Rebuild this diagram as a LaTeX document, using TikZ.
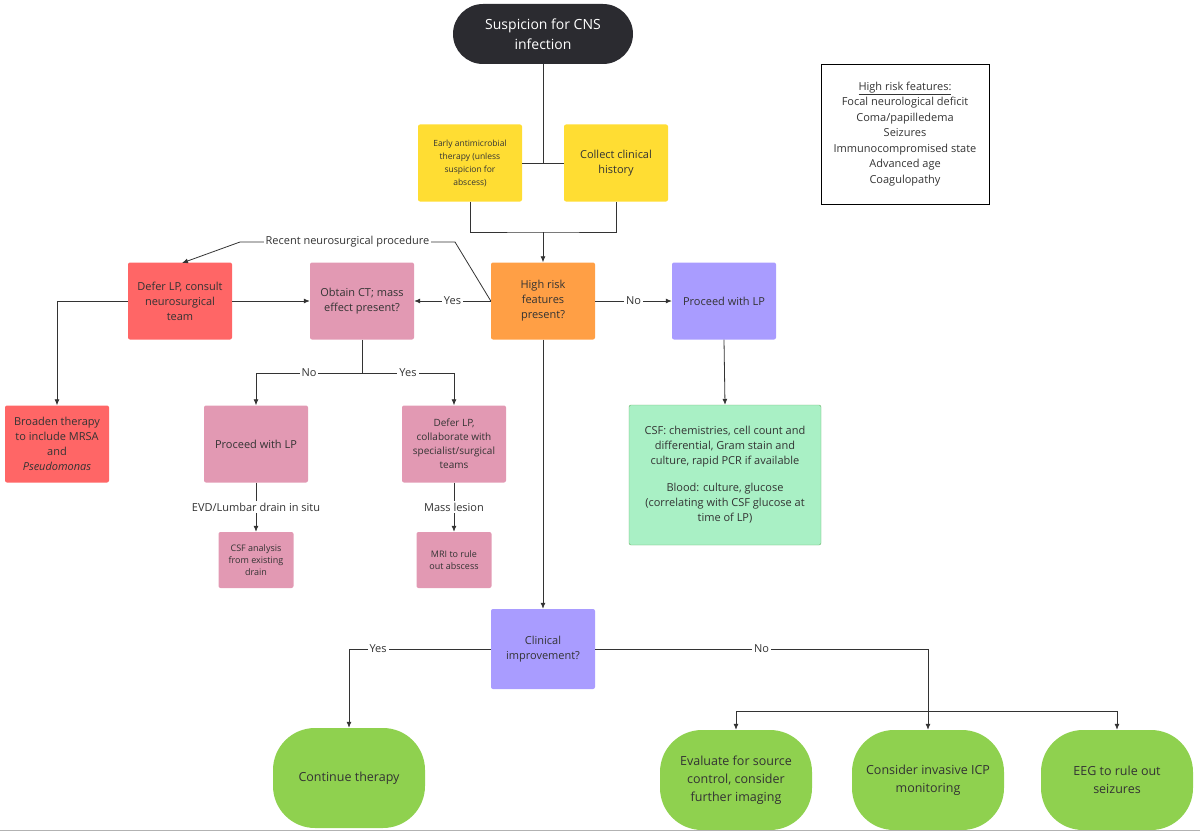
\documentclass[tikz,border=0pt]{standalone}
\usepackage{fontspec}
\setmainfont{Open Sans}
\usetikzlibrary{arrows.meta}
\definecolor{cblack}{HTML}{2B2B30}
\definecolor{cyel}{HTML}{FFDD33}
\definecolor{cor}{HTML}{FF9F45}
\definecolor{cpink}{HTML}{E299B3}
\definecolor{cred}{HTML}{FF6666}
\definecolor{cpur}{HTML}{A99CFF}
\definecolor{clg}{HTML}{A9F0C5}
\definecolor{cgr}{HTML}{8FD14F}
\definecolor{ctxt}{HTML}{333333}
\begin{document}
\begin{tikzpicture}[x=1pt,y=-1pt,
 box/.style={rounded corners=2pt,minimum width=104pt,minimum height=77pt,align=center,inner sep=3pt,font=\fontsize{11}{15}\selectfont,text=ctxt},
 pill/.style={rounded corners=42pt,minimum width=152pt,minimum height=100pt,align=center,fill=cgr,font=\fontsize{12.5}{18}\selectfont,text=ctxt},
 small/.style={box,minimum width=75pt,minimum height=56pt,font=\fontsize{9}{12}\selectfont},
 lab/.style={fill=white,inner sep=2pt,font=\fontsize{11}{13}\selectfont,text=ctxt},
 ln/.style={draw=ctxt,line width=0.8pt},
 ar/.style={ln,-{Latex[length=6pt,width=5pt]}}]
\useasboundingbox (0,0) rectangle (1200,832);
\node[rounded corners=30pt,fill=cblack,text=white,minimum width=180pt,minimum height=60pt,align=center,font=\fontsize{14}{20}\selectfont] (start) at (543,34) {Suspicion for CNS\\infection};
\node[box,fill=cyel,font=\fontsize{8.5}{13}\selectfont] (early) at (470,163) {Early antimicrobial\\therapy (unless\\suspicion for\\abscess)};
\node[box,fill=cyel] (collect) at (616,163) {Collect clinical\\history};
\node[box,fill=cor] (high) at (543,301) {High risk\\features\\present?};
\node[box,fill=cpink] (ct) at (362,301) {Obtain CT; mass\\effect present?};
\node[box,fill=cred] (defer1) at (180,301) {Defer LP, consult\\neurosurgical\\team};
\node[box,fill=cpur] (plp1) at (724,301) {Proceed with LP};
\node[box,fill=cred] (broad) at (57,444) {Broaden therapy\\to include MRSA\\and\\\textit{Pseudomonas}};
\node[box,fill=cpink] (plp2) at (256,444) {Proceed with LP};
\node[box,fill=cpink,font=\fontsize{10}{14}\selectfont] (defer2) at (454,444) {Defer LP,\\collaborate with\\specialist/surgical\\teams};
\node[small,fill=cpink] (csfa) at (256,560) {CSF analysis\\from existing\\drain};
\node[small,fill=cpink] (mri) at (454,560) {MRI to rule\\out abscess};
\node[box,fill=clg,draw=green!50!black!60,minimum width=192pt,minimum height=140pt] (csf) at (725,475) {CSF: chemistries, cell count and\\differential, Gram stain and\\culture, rapid PCR if available\\[12pt]Blood: culture, glucose\\(correlating with CSF glucose at\\time of LP)};
\node[box,fill=cpur,minimum height=80pt] (clin) at (543,649) {Clinical\\improvement?};
\node[pill] (cont) at (349,778) {Continue therapy};
\node[pill] (eval) at (736,780) {Evaluate for source\\control, consider\\further imaging};
\node[pill] (icp) at (928,780) {Consider invasive ICP\\monitoring};
\node[pill] (eeg) at (1117,780) {EEG to rule out\\seizures};
\node[draw=black,line width=0.8pt,minimum width=168pt,minimum height=140pt,align=center,font=\fontsize{11}{15.5}\selectfont,text=ctxt] (hr) at (905,134) {\underline{High risk features:}\\Focal neurological deficit\\Coma/papilledema\\Seizures\\Immunocompromised state\\Advanced age\\Coagulopathy};
% connectors
\coordinate (j1) at (543,163);
\draw[ln] (start.south) -- (j1);
\draw[ln] (early.east) -- (collect.west);
\coordinate (j2) at (543,232);
\draw[ln] (early.south) |- (j2) -| (collect.south);
\draw[ar] (j2) -- (high.north);
\draw[ar] (high.west) -- node[lab]{Yes} (ct.east);
\draw[ar] (high.east) -- node[lab]{No} (plp1.west);
\coordinate (r1) at (455,242);
\coordinate (r2) at (240,242);
\draw[ar] (high.west) -- (r1) -- node[lab]{Recent neurosurgical procedure} (r2) -- (182,263);
\draw[ar] (defer1.east) -- (ct.west);
\draw[ar] (defer1.west) -| (broad.north);
\coordinate (j3) at (362,373);
\draw[ln] (ct.south) -- (j3);
\draw[ar] (j3) -- node[lab,pos=0.5]{No} (256,373) -- (plp2.north);
\draw[ar] (j3) -- node[lab,pos=0.5]{Yes} (454,373) -- (defer2.north);
\draw[ar] (plp2.south) -- node[lab]{EVD/Lumbar drain in situ} (csfa.north);
\draw[ar] (defer2.south) -- node[lab]{Mass lesion} (mri.north);
\draw[ar] (plp1.south) -- (csf.north);
\draw[ar] (high.south) -- (clin.north);
\draw[ar] (clin.west) -- node[lab,pos=0.795]{Yes} (349,649) -- (cont.north);
\coordinate (j4) at (928,711);
\draw[ln] (clin.east) -- node[lab,pos=0.5]{No} (928,649) -- (j4);
\draw[ar] (j4) -- (icp.north);
\draw[ar] (j4) -| (eval.north);
\draw[ar] (j4) -| (eeg.north);
\draw[gray!60,line width=1pt] (0,830) -- (1200,830);
\end{tikzpicture}
\end{document}
